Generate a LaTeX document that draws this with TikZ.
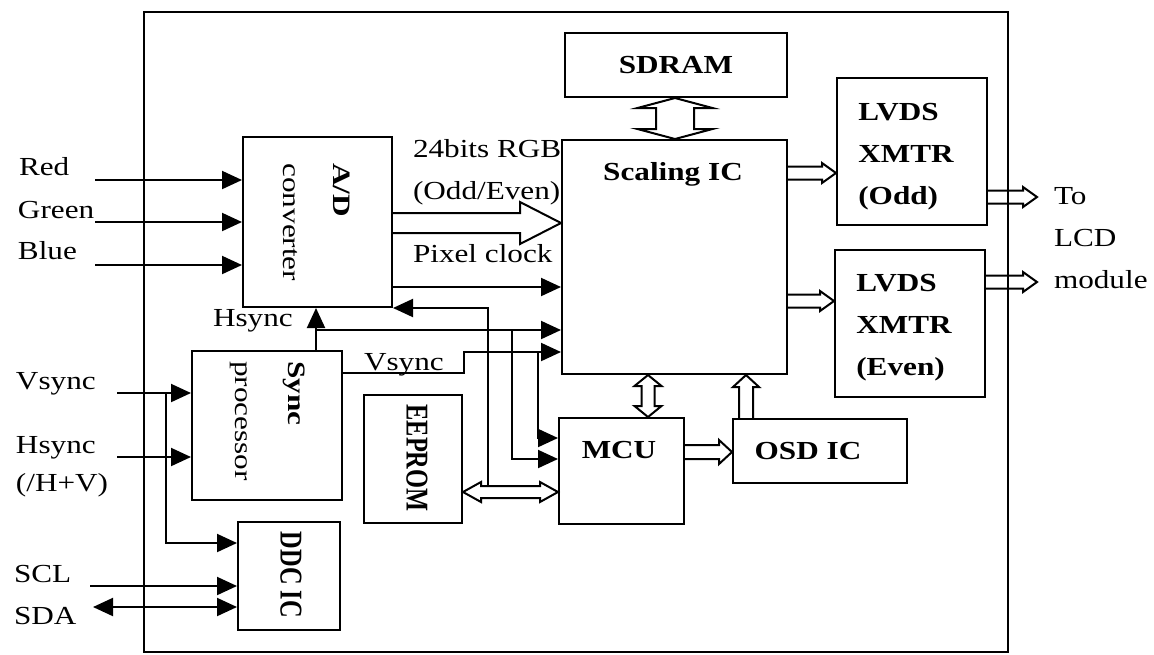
\documentclass[tikz,border=0pt]{standalone}
\usepackage{fontspec}
\setmainfont{Liberation Serif}[FakeStretch=1.2]
\newfontfamily\rotfont{Liberation Serif}
\usetikzlibrary{arrows.meta,calc,fit}

\tikzset{
  bus w/.store in=\busw, bus h/.store in=\bush, bus l/.store in=\busl,
  bus w=3.25pt, bus h=5pt, bus l=7pt,
  bus/.style={to path={
    let \p1=(\tikztostart), \p2=(\tikztotarget),
        \n1={atan2(\y2-\y1,\x2-\x1)}, \n2={veclen(\x2-\x1,\y2-\y1)} in
    ($(\p1)+(\n1+90:\busw)$) -- ($(\p1)+(\n1:\n2-\busl)+(\n1+90:\busw)$)
    -- ($(\p1)+(\n1:\n2-\busl)+(\n1+90:\bush)$) -- (\p2)
    -- ($(\p1)+(\n1:\n2-\busl)+(\n1-90:\bush)$)
    -- ($(\p1)+(\n1:\n2-\busl)+(\n1-90:\busw)$) -- ($(\p1)+(\n1-90:\busw)$)}},
  busboth/.style={to path={
    let \p1=(\tikztostart), \p2=(\tikztotarget),
        \n1={atan2(\y2-\y1,\x2-\x1)}, \n2={veclen(\x2-\x1,\y2-\y1)} in
    ($(\p1)+(\n1:\busl)+(\n1+90:\busw)$) -- ($(\p1)+(\n1:\n2-\busl)+(\n1+90:\busw)$)
    -- ($(\p1)+(\n1:\n2-\busl)+(\n1+90:\bush)$) -- (\p2)
    -- ($(\p1)+(\n1:\n2-\busl)+(\n1-90:\bush)$)
    -- ($(\p1)+(\n1:\n2-\busl)+(\n1-90:\busw)$) -- ($(\p1)+(\n1:\busl)+(\n1-90:\busw)$)
    -- ($(\p1)+(\n1:\busl)+(\n1-90:\bush)$) -- (\p1)
    -- ($(\p1)+(\n1:\busl)+(\n1+90:\bush)$) -- cycle}}
}

\begin{document}
\begin{tikzpicture}[
  x=0.5pt, y=-0.5pt,
  font=\fontsize{13}{21}\selectfont,
  line width=1pt,
  >={Triangle[length=10pt,width=9pt]},
  blk/.style={draw, inner sep=0pt, fit={#1}},
  boxlbl/.style={font=\fontsize{13}{21}\selectfont\bfseries, align=left, inner sep=0pt},
  sig/.style={anchor=base west, inner sep=0pt},
  vtext/.style={rotate=-90, inner sep=0pt, align=left, font=\rotfont\fontsize{12.5}{25}\selectfont},
  arr/.style={->}
]
  \useasboundingbox (0,0) rectangle (1154,654);

  \node[blk={(144,12) (1008,652)}] (board) {};
  \node[blk={(243,137) (392,307)}] (adc) {};
  \node[blk={(192,351) (342,500)}] (sync) {};
  \node[blk={(238,522) (340,630)}] (ddc) {};
  \node[blk={(364,395) (462,523)}] (eep) {};
  \node[blk={(562,140) (787,374)}] (scal) {};
  \node[blk={(559,418) (684,524)}] (mcu) {};
  \node[blk={(565,33) (787,97)}, label={[boxlbl]center:SDRAM}] (sdram) {};
  \node[blk={(733,419) (907,483)}, label={[boxlbl, xshift=-6pt]center:OSD IC}] (osd) {};
  \node[blk={(837,78) (987,225)}, label={[boxlbl, xshift=-3pt, yshift=-2.5pt]center:LVDS\\XMTR\\(Odd)}] (odd) {};
  \node[blk={(835,250) (985,397)}, label={[boxlbl, xshift=-3pt, yshift=-2pt]center:LVDS\\XMTR\\(Even)}] (even) {};

  \node[boxlbl, anchor=base] (scaltxt) at (673,180) {Scaling IC};
  \node[boxlbl, anchor=base] (mcutxt) at (619,458) {MCU};
  \node[vtext, xscale=1.25, anchor=north west] (adctxt) at (351,162) {\textbf{A/D}\\converter};
  \node[vtext, xscale=1.25, anchor=north west, font=\rotfont\fontsize{12.5}{26.5}\selectfont] (synctxt) at (306,360) {\textbf{Sync}\\processor};
  \node[vtext, yscale=1.3, font=\rotfont\fontsize{12.2}{20}\selectfont\bfseries] (eeptxt) at (417,458) {EEPROM};
  \node[vtext, yscale=1.3, font=\rotfont\fontsize{12.2}{20}\selectfont\bfseries] (ddctxt) at (291,575) {DDC IC};

  \node[sig] (lred) at (18,175) {Red};
  \node[sig] (lgreen) at (17,218) {Green};
  \node[sig] (lblue) at (17,259) {Blue};
  \node[sig] (lvs) at (15,389) {Vsync};
  \node[sig] (lhs) at (15,453) {Hsync};
  \node[sig] (lhv) at (15,491) {(/H+V)};
  \node[sig] (lscl) at (13,582) {SCL};
  \node[sig] (lsda) at (13,624) {SDA};
  \node[sig] (lhsync) at (212,326) {Hsync};
  \node[sig] (lvsync) at (363,370) {Vsync};
  \node[sig] (lpix) at (412,262) {Pixel clock};
  \node[inner sep=0pt, anchor=west, align=left] (lrgb) at (412,172) {24bits RGB\\(Odd/Even)};
  \node[inner sep=0pt, anchor=west, align=left] (llcd) at (1053,238) {To\\LCD\\module};

  \coordinate (inR) at (95,180);
  \coordinate (inG) at (95,222);
  \coordinate (inB) at (95,265);
  \coordinate (inV) at (117,393);
  \coordinate (inH) at (117,457);
  \coordinate (inSCL) at (90,586);
  \coordinate (inSDA) at (93,607);
  \coordinate (vtap) at (166,393);
  \coordinate (htap) at (316,330);
  \coordinate (htap2) at (512,330);
  \coordinate (vtap2) at (538,352);
  \coordinate (i2c) at (488,487);
  \coordinate (out1) at (1037,197);
  \coordinate (out2) at (1037,282);

  \draw[arr] (inR) -- (inR -| adc.west);
  \draw[arr] (inG) -- (inG -| adc.west);
  \draw[arr] (inB) -- (inB -| adc.west);
  \draw[arr] (inV) -- (inV -| sync.west);
  \draw[arr] (inH) -- (inH -| sync.west);
  \draw[arr] (inSCL) -- (inSCL -| ddc.west);
  \draw[<->] (inSDA) -- (inSDA -| ddc.west);
  \draw[arr] (vtap) |- (ddc.west |- 0,543);

  \draw[arr] (sync.north -| htap) -- (adc.south -| htap);
  \draw[arr] (htap) -- (htap -| scal.west);
  \draw[arr] (htap2) |- (mcu.west |- 0,459);
  \draw[arr] (sync.east |- 0,373) -- ++(121,0) |- (vtap2 -| scal.west);
  \draw[arr] (vtap2) |- (mcu.west |- 0,438);
  \draw[arr] (i2c) |- (adc.south east);
  \draw[arr] (adc.east |- 0,287) -- (scal.west |- 0,287);

  \draw[bus, bus w=5pt, bus h=10.5pt, bus l=20.5pt] (adc.east |- 0,223) to (scal.west |- 0,223);
  \draw[busboth, bus w=9.5pt, bus h=18.75pt, bus l=5pt] (sdram.south -| 675,0) to (scal.north -| 675,0);
  \draw[bus] (scal.east |- 0,173) to (odd.west |- 0,173);
  \draw[bus] (scal.east |- 0,301) to (even.west |- 0,301);
  \draw[bus] (odd.east |- out1) to (out1);
  \draw[bus] (even.east |- out2) to (out2);
  \draw[busboth, bus w=3.25pt, bus h=6.75pt, bus l=5.5pt] (scal.south -| 648,0) to (mcu.north -| 648,0);
  \draw[bus, bus w=3.5pt, bus h=6.5pt, bus l=6pt] (osd.north -| 746,0) to (scal.south -| 746,0);
  \draw[bus, bus w=3.5pt, bus h=6pt, bus l=6.5pt] (mcu.east |- 0,452) to (osd.west |- 0,452);
  \draw[busboth, bus w=3pt, bus h=5pt, bus l=9pt] (eep.east |- 0,492) to (mcu.west |- 0,492);
\end{tikzpicture}
\end{document}
